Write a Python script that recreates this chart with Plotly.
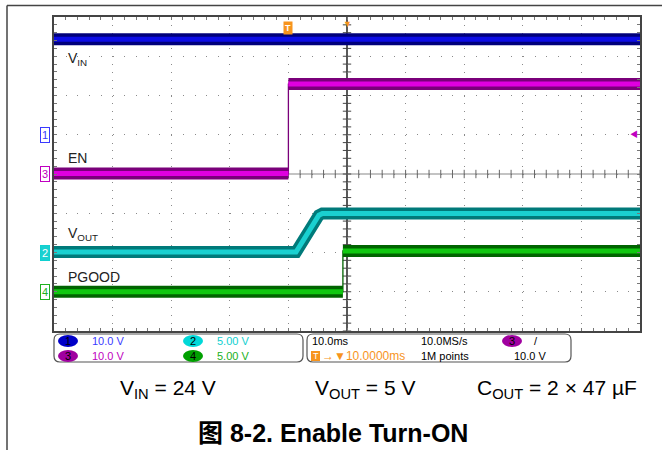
import numpy as np
import plotly.graph_objects as go

W, H = 662, 450

# scope captures: time in ms (trigger at 0), volts per channel
vin_time = [-40, 60]
vin_volts = [24.3, 24.3]
en_time = [-40, 0, 0, 60]
en_volts = [0.1, 0.1, 22.9, 22.9]
vout_time = [-40, 1.3, 5.2, 5.8, 60]
vout_volts = [0.05, 0.05, 4.75, 4.98, 4.98]
pgood_time = [-40, 9.3, 9.3, 60]
pgood_volts = [0.0, 0.0, 5.2, 5.2]

ch_names = ["1", "2", "3", "4"]
ch_scales = ["10.0 V", "5.00 V", "10.0 V", "5.00 V"]
captions = ["V<sub>IN</sub> = 24 V", "V<sub>OUT</sub> = 5 V", "C<sub>OUT</sub> = 2 × 47 µF"]
title_text = "图 8-2. Enable Turn-ON"

# channel setup: volts/div, ground offset in divisions, colours
channels = {
    "1": dict(scale=10, offset=1, dark="#00007a", light="#0c0ce6", text="#3a3aff", pill="#0000c8"),
    "2": dict(scale=5, offset=-2, dark="#007a7a", light="#1ad0d0", text="#10d0d0", pill="#00d8d8"),
    "3": dict(scale=10, offset=0, dark="#7a007a", light="#e000e0", text="#c000c0", pill="#a000a0"),
    "4": dict(scale=5, offset=-3, dark="#006400", light="#10c810", text="#20b020", pill="#00a000"),
}
ORANGE = "#f7941d"
FONT = "Liberation Sans, Arial, Noto Sans CJK SC, sans-serif"


def px(x):
    return x / W


def py(y):
    return 1 - y / H


def to_div(ch, volts):
    c = channels[ch]
    return [c["offset"] + v / c["scale"] for v in volts]


def band(t, v):
    # break vertical edges so the thick noise band stays horizontal
    bt, bv = [], []
    for i in range(len(t)):
        if i > 0 and t[i] == t[i - 1]:
            bt.append(None)
            bv.append(None)
        bt.append(t[i])
        bv.append(v[i])
    return bt, bv


fig = go.Figure()

# crosshair tick marks
minor_x = np.arange(-40, 60.01, 2)
minor_y = np.arange(-4, 4.01, 0.2)
fig.add_trace(go.Scatter(x=minor_x, y=[0] * len(minor_x), mode="markers",
                         marker=dict(symbol="line-ns", size=6, line=dict(width=1, color="#666")),
                         hoverinfo="skip"))
fig.add_trace(go.Scatter(x=[10] * len(minor_y), y=minor_y, mode="markers",
                         marker=dict(symbol="line-ew", size=6, line=dict(width=1, color="#444")),
                         hoverinfo="skip"))

for ch, t, v in [("3", en_time, en_volts), ("1", vin_time, vin_volts),
                 ("4", pgood_time, pgood_volts), ("2", vout_time, vout_volts)]:
    c = channels[ch]
    y = to_div(ch, v)
    fig.add_trace(go.Scatter(x=t, y=y, mode="lines", line=dict(color=c["dark"], width=1.3)))
    bt, bv = band(t, y)
    fig.add_trace(go.Scatter(x=bt, y=bv, mode="lines", connectgaps=False,
                             line=dict(color=c["dark"], width=12)))
    fig.add_trace(go.Scatter(x=bt, y=bv, mode="lines", connectgaps=False,
                             line=dict(color=c["light"], width=5)))

# ground markers on the left edge
for ch in ch_names:
    c = channels[ch]
    fig.add_trace(go.Scatter(x=[-40.5], y=[c["offset"]], mode="markers", cliponaxis=False,
                             marker=dict(symbol="triangle-right", size=7, color=c["text"]),
                             hoverinfo="skip"))
    filled = ch == "2"
    fig.add_annotation(x=px(50), xref="paper", xanchor="right", y=c["offset"], yref="y",
                       yanchor="middle", text=ch, showarrow=False,
                       font=dict(family=FONT, size=11, color="white" if filled else c["text"]),
                       bgcolor=c["light"] if filled else "white", bordercolor=c["text"],
                       borderwidth=1, borderpad=1)

# trace labels
for txt, yv in [("V<sub>IN</sub>", 2.93), ("EN", 0.41), ("V<sub>OUT</sub>", -1.53), ("PGOOD", -2.62)]:
    fig.add_annotation(x=-37.9, y=yv, text=txt, showarrow=False, xanchor="left", yanchor="middle",
                       font=dict(family=FONT, size=14, color="#222"))

# trigger markers
fig.add_annotation(x=0, y=3.72, text="<b>T</b>", showarrow=False, bgcolor=ORANGE,
                   xanchor="center", yanchor="middle",
                   font=dict(family=FONT, size=9, color="white"), borderpad=1)
fig.add_annotation(x=10, y=4, yanchor="top", xanchor="center", text="▼", showarrow=False,
                   font=dict(family=FONT, size=9, color=ORANGE))
fig.add_annotation(x=60, y=1, xanchor="right", yanchor="middle", text="◀", showarrow=False,
                   font=dict(family=FONT, size=8, color=channels["3"]["text"]))

shapes = [
    dict(type="line", xref="x", yref="paper", x0=10, x1=10, y0=py(331), y1=py(17),
         line=dict(color="#222", width=1.5), layer="below"),
    dict(type="line", xref="paper", yref="y", x0=px(54), x1=px(640), y0=0, y1=0,
         line=dict(color="#888", width=1.2), layer="below"),
    # outer frame
    dict(type="line", xref="paper", yref="paper", x0=px(7), x1=1, y0=py(5.5), y1=py(5.5),
         line=dict(color="#444", width=1.5)),
    dict(type="line", xref="paper", yref="paper", x0=px(7), x1=px(7), y0=py(5.5), y1=0,
         line=dict(color="#444", width=1.5)),
]


def rrect(x0, y0, x1, y1, r):
    p = (f"M {px(x0 + r)},{py(y0)} L {px(x1 - r)},{py(y0)} Q {px(x1)},{py(y0)} {px(x1)},{py(y0 + r)} "
         f"L {px(x1)},{py(y1 - r)} Q {px(x1)},{py(y1)} {px(x1 - r)},{py(y1)} "
         f"L {px(x0 + r)},{py(y1)} Q {px(x0)},{py(y1)} {px(x0)},{py(y1 - r)} "
         f"L {px(x0)},{py(y0 + r)} Q {px(x0)},{py(y0)} {px(x0 + r)},{py(y0)} Z")
    return dict(type="path", xref="paper", yref="paper", path=p, line=dict(color="#555", width=1.2))


shapes.append(rrect(54, 334, 303, 362, 6))
shapes.append(rrect(307, 334, 571, 362, 6))


def pill(xc, yc, label, color):
    shapes.append(dict(type="circle", xref="paper", yref="paper", x0=px(xc - 10), x1=px(xc + 10),
                       y0=py(yc + 6), y1=py(yc - 6), fillcolor=color, line=dict(width=0)))
    fig.add_annotation(x=px(xc), y=py(yc), xref="paper", yref="paper", text=label, showarrow=False,
                       xanchor="center", yanchor="middle",
                       font=dict(family=FONT, size=11, color="black"))


def label(x, y, txt, color="black", size=11):
    fig.add_annotation(x=px(x), y=py(y), xref="paper", yref="paper", text=txt, showarrow=False,
                       xanchor="left", yanchor="middle", font=dict(family=FONT, size=size, color=color))


rows = {"1": (68, 341), "3": (68, 356), "2": (193, 341), "4": (193, 356)}
for ch, scale in zip(ch_names, ch_scales):
    xc, yc = rows[ch]
    pill(xc, yc, ch, channels[ch]["pill"])
    label(xc + 22, yc, scale, channels[ch]["text"])

label(310, 341, "10.0ms")
label(419, 341, "10.0MS/s")
pill(512, 341, "3", channels["3"]["pill"])
label(532, 341, "/")
shapes.append(dict(type="rect", xref="paper", yref="paper", x0=px(311), x1=px(320),
                   y0=py(361), y1=py(351), fillcolor=ORANGE, line=dict(width=0)))
fig.add_annotation(x=px(315.5), y=py(356), xref="paper", yref="paper", text="T", showarrow=False,
                   xanchor="center", yanchor="middle",
                   font=dict(family=FONT, size=9, color="white"))
label(320, 356, "→▼10.0000ms", ORANGE, 12)
label(419, 356, "1M points")
label(512, 356, "10.0 V")

for txt, xc in zip(captions, [168, 365, 557]):
    fig.add_annotation(x=px(xc), y=py(389), xref="paper", yref="paper", text=txt, showarrow=False,
                       xanchor="center", yanchor="middle",
                       font=dict(family=FONT, size=21, color="black"))
fig.add_annotation(x=px(333), y=py(433), xref="paper", yref="paper", text=f"<b>{title_text}</b>",
                   xanchor="center", yanchor="middle",
                   showarrow=False, font=dict(family=FONT, size=25, color="black"))

axis_common = dict(showticklabels=False, zeroline=False, showline=True, linecolor="#444",
                   linewidth=1.5, mirror="allticks", ticks="inside", ticklen=3, tickcolor="#777",
                   gridcolor="#8a8a8a", gridwidth=1)
fig.update_xaxes(range=[-40, 60], domain=[px(54), px(640)], tick0=-40, dtick=10,
                 griddash="1px,6.85px",
                 minor=dict(ticks="inside", ticklen=3, dtick=2, tick0=-40, tickcolor="#777"),
                 **axis_common)
fig.update_yaxes(range=[-4, 4], domain=[py(331), py(17)], tick0=-4, dtick=1,
                 griddash="1px,10.72px",
                 minor=dict(ticks="inside", ticklen=3, dtick=0.2, tick0=-4, tickcolor="#777"),
                 **axis_common)

fig.update_layout(width=W, height=H, margin=dict(l=0, r=0, t=0, b=0), showlegend=False,
                  paper_bgcolor="white", plot_bgcolor="white", shapes=shapes,
                  font=dict(family=FONT))
fig.write_html("out.html", config={"displayModeBar": False},
               post_script="document.body.style.margin='0';")
